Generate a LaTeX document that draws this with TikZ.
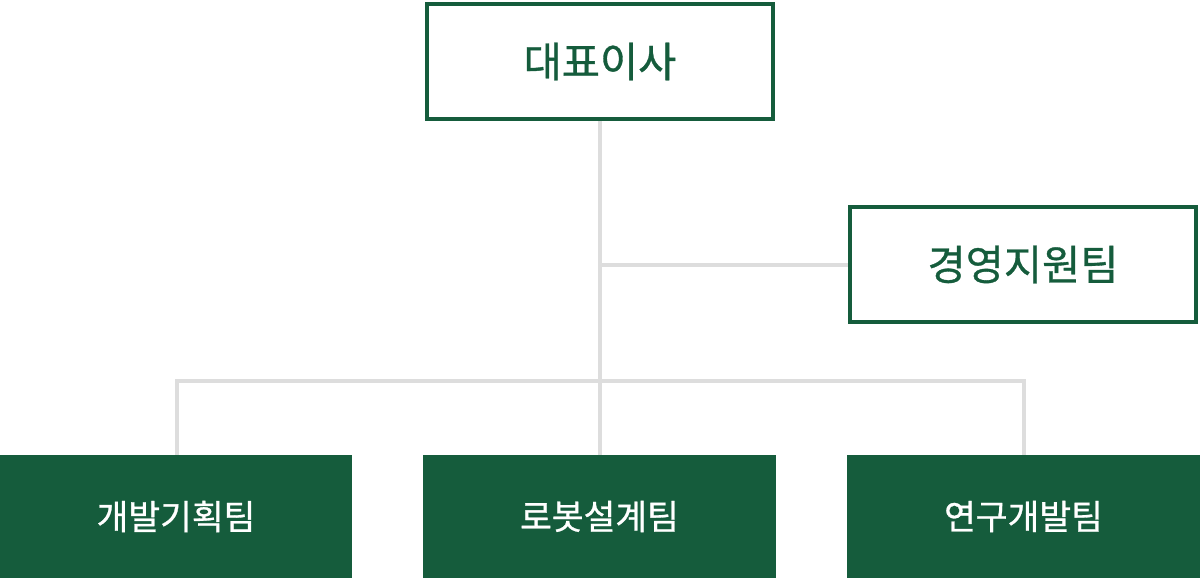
\documentclass[tikz,border=0pt]{standalone}
\usepackage{fontspec}
\newfontfamily\krfont[FakeBold=0.8]{Noto Sans CJK KR}
\definecolor{orggreen}{HTML}{155C3C}
\definecolor{linegray}{HTML}{DDDDDD}
\begin{document}
\begin{tikzpicture}[x=1pt, y=-1pt,
    every node/.style={font=\krfont, inner sep=0pt},
    headbox/.style={draw=orggreen, line width=4pt, fill=white, text=orggreen,
        minimum width=346pt, minimum height=115pt, font=\krfont\fontsize{41.5}{46}\selectfont},
    teambox/.style={fill=orggreen, text=white, minimum width=352pt, minimum height=123pt,
        font=\krfont\fontsize{34.5}{40}\selectfont},
    link/.style={draw=linegray, line width=4pt}
]
\useasboundingbox (0,0) rectangle (1200,578);

% lines first
\coordinate (bus) at (600,381);

% boxes
\node[headbox] (ceo) at (600,61.5) {대표이사};
\node[headbox] (mgmt) at (1023,264.5) {경영지원팀};

\node[teambox] (plan) at (176,516.5) {개발기획팀};
\node[teambox, minimum width=353pt] (robot) at (599.5,516.5) {로봇설계팀};
\node[teambox, minimum width=353pt] (rnd) at (1023.5,516.5) {연구개발팀};

% connectors
\begin{scope}[on background layer/.try]
\draw[link] (ceo.south) -- (ceo.south |- robot.north);
\draw[link] (ceo.south |- mgmt.west) -- (mgmt.west);
\draw[link] (bus) -| ([xshift=1pt]plan.north);
\draw[link] (bus) -| (rnd.north);
\end{scope}

\end{tikzpicture}
\end{document}
